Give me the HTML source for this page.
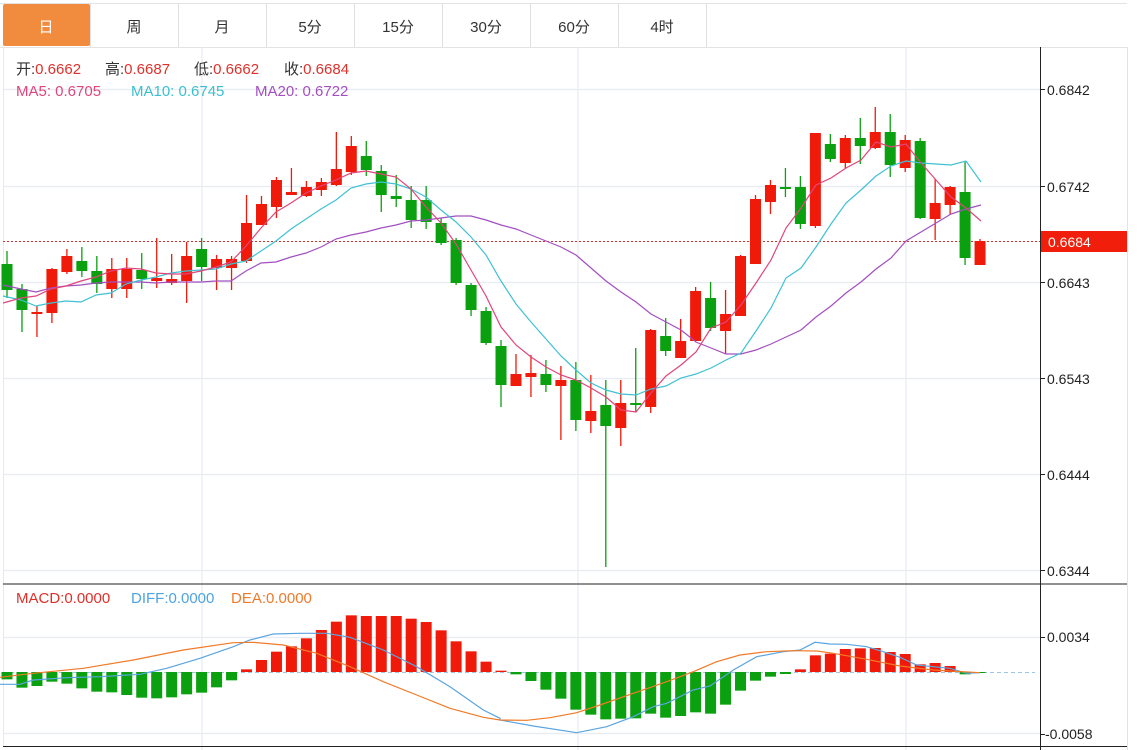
<!DOCTYPE html>
<html><head><meta charset="utf-8"><style>
html,body{margin:0;padding:0;background:#fff;width:1141px;height:750px;overflow:hidden}
svg{display:block}
text{font-family:"Liberation Sans","Noto Sans CJK SC",sans-serif}
</style></head><body>
<svg id="s" width="1141" height="750" xmlns="http://www.w3.org/2000/svg">
<rect width="1141" height="750" fill="#fff"/>
<line x1="0" y1="3.5" x2="1127" y2="3.5" stroke="#e3e3e3"/>
<rect x="3" y="4" width="87" height="42" fill="#f18c3e" rx="2"/>
<g stroke="#e0e0e0">
<line x1="90.5" y1="4" x2="90.5" y2="47"/><line x1="178.5" y1="4" x2="178.5" y2="47"/><line x1="266.5" y1="4" x2="266.5" y2="47"/><line x1="354.5" y1="4" x2="354.5" y2="47"/><line x1="442.5" y1="4" x2="442.5" y2="47"/><line x1="530.5" y1="4" x2="530.5" y2="47"/><line x1="618.5" y1="4" x2="618.5" y2="47"/><line x1="706.5" y1="4" x2="706.5" y2="47"/>
</g>
<g font-size="15" text-anchor="middle" fill="#333">
<text x="46" y="32" fill="#fff">日</text><text x="134" y="32">周</text><text x="222" y="32">月</text><text x="310" y="32">5分</text><text x="398" y="32">15分</text><text x="486" y="32">30分</text><text x="574" y="32">60分</text><text x="662" y="32">4时</text>
</g>
<line x1="0" y1="47.5" x2="1127" y2="47.5" stroke="#e3e3e3"/>
<line x1="1127.5" y1="47" x2="1127.5" y2="750" stroke="#e3e3e3"/>
<line x1="3.5" y1="47" x2="3.5" y2="746" stroke="#e6eaf0"/>
<g stroke="#e6ecf2" stroke-width="1.2">
<line x1="3" y1="89.5" x2="1040" y2="89.5"/><line x1="3" y1="186.5" x2="1040" y2="186.5"/><line x1="3" y1="282.5" x2="1040" y2="282.5"/><line x1="3" y1="378.5" x2="1040" y2="378.5"/><line x1="3" y1="474.5" x2="1040" y2="474.5"/><line x1="3" y1="570.5" x2="1040" y2="570.5"/>
<line x1="3" y1="637.5" x2="1040" y2="637.5"/><line x1="3" y1="733.5" x2="1040" y2="733.5"/>
<line x1="202" y1="47" x2="202" y2="750"/><line x1="578" y1="47" x2="578" y2="750"/><line x1="906" y1="47" x2="906" y2="750"/>
</g>
<line x1="3" y1="584" x2="1127" y2="584" stroke="#222"/>
<line x1="3" y1="746.5" x2="1127" y2="746.5" stroke="#222"/>
<line x1="1040.5" y1="47" x2="1040.5" y2="750" stroke="#222"/>
<g stroke="#222"><line x1="1040" y1="89.5" x2="1045" y2="89.5"/><line x1="1040" y1="186.5" x2="1045" y2="186.5"/><line x1="1040" y1="282.5" x2="1045" y2="282.5"/><line x1="1040" y1="378.5" x2="1045" y2="378.5"/><line x1="1040" y1="474.5" x2="1045" y2="474.5"/><line x1="1040" y1="570.5" x2="1045" y2="570.5"/><line x1="1040" y1="637.5" x2="1045" y2="637.5"/><line x1="1040" y1="734.5" x2="1045" y2="734.5"/><line x1="1040" y1="241.5" x2="1045" y2="241.5"/></g>
<g font-size="14" fill="#222">
<text x="1047" y="95">0.6842</text><text x="1047" y="192">0.6742</text><text x="1047" y="288">0.6643</text><text x="1047" y="384">0.6543</text><text x="1047" y="480">0.6444</text><text x="1047" y="576">0.6344</text><text x="1047" y="642">0.0034</text><text x="1045" y="739">-0.0058</text>
</g>
<rect x="1041" y="231" width="86" height="21" fill="#f01e0a"/>
<text x="1048" y="247" font-size="14" fill="#fff">0.6684</text>
<line x1="3" y1="241.5" x2="1040" y2="241.5" stroke="#d0312d" stroke-dasharray="2,2"/>
<line x1="3" y1="672.5" x2="1035" y2="672.5" stroke="#9cc6e6" stroke-dasharray="4,3"/>
<g id="c"></g>
<g id="m"></g>
<g font-size="15">
<text x="16" y="74" fill="#333">开:<tspan fill="#e0302a">0.6662</tspan></text>
<text x="105" y="74" fill="#333">高:<tspan fill="#e0302a">0.6687</tspan></text>
<text x="194" y="74" fill="#333">低:<tspan fill="#e0302a">0.6662</tspan></text>
<text x="284" y="74" fill="#333">收:<tspan fill="#e0302a">0.6684</tspan></text>
<text x="16" y="96" fill="#e0457b">MA5: 0.6705</text>
<text x="131" y="96" fill="#3bbfd0">MA10: 0.6745</text>
<text x="255" y="96" fill="#a24fc0">MA20: 0.6722</text>
<text x="16" y="603" fill="#e0302a">MACD:0.0000</text>
<text x="131" y="603" fill="#4ea3e3">DIFF:0.0000</text>
<text x="231" y="603" fill="#ee7a2c">DEA:0.0000</text>
</g>
</svg>
<script>
var R="#f01a0a",G="#0aa00f";
var C=[[251,264,290,298,0],[284,289,310,332,0],[306,312,314,337,1],[268,269,313,323,1],[249,256,272,274,1],[247,261,271,277,0],[256,271,284,293,0],[258,269,289,298,1],[258,269,289,298,1],[253,270,279,289,0],[238,278,281,288,1],[254,279,283,285,1],[242,256,281,303,1],[238,249,267,281,0],[255,259,268,290,1],[256,259,268,290,1],[195,223,261,263,1],[196,204,225,225,1],[177,180,207,218,1],[168,192,195,195,1],[181,187,196,197,1],[178,182,190,196,1],[132,169,185,186,1],[136,146,172,175,1],[141,156,170,176,0],[165,171,195,212,0],[175,196,199,207,0],[186,200,220,228,0],[186,200,222,229,0],[218,223,243,245,0],[238,240,283,285,0],[283,285,310,316,0],[307,311,343,345,0],[340,346,385,407,0],[354,374,386,386,1],[355,373,377,397,1],[360,374,385,392,0],[366,380,386,440,1],[362,380,420,431,0],[375,411,421,433,1],[380,405,426,567,0],[380,403,428,446,1],[348,403,405,412,0],[329,330,407,413,1],[318,336,351,356,0],[319,341,358,358,1],[287,291,341,341,1],[282,298,328,331,0],[290,314,331,354,1],[255,256,316,316,1],[195,199,264,264,1],[180,185,202,214,1],[168,187,189,197,0],[176,187,224,229,0],[133,133,226,228,1],[134,144,159,162,0],[135,138,163,168,1],[118,138,146,164,0],[107,132,148,149,1],[114,132,165,177,0],[135,140,168,172,1],[138,141,218,219,0],[179,203,219,240,1],[186,187,205,215,1],[162,192,258,265,0],[239,241,265,265,1]];
var M=[298,323,318,305,311,325,335,337,345,353,355,352,343,338,322,301,268,240,215,199,175,150,125,106,108,108,108,116,126,151,184,214,245,272,283,303,329,356,389,404,418,416,415,401,413,408,397,401,374,332,302,290,282,268,226,221,207,205,204,216,222,253,249,258,283,279];
var s="";
function X(i){return 7+i*14.97;}
for(var i=0;i<C.length;i++){var c=C[i],x=X(i),col=c[4]?R:G;
s+='<line x1="'+x+'" y1="'+c[0]+'" x2="'+x+'" y2="'+c[3]+'" stroke="'+col+'" stroke-width="1.3"/>';
var h=Math.max(c[2]-c[1],2);
s+='<rect x="'+(x-5.5)+'" y="'+c[1]+'" width="11" height="'+h+'" fill="'+col+'"/>';
var y=580+M[i]/3,z=672;
if(Math.abs(y-z)>0.8){s+='<rect x="'+(x-5.5)+'" y="'+Math.min(y,z)+'" width="11" height="'+Math.abs(y-z)+'" fill="'+(y<z?R:G)+'"/>';}
}
document.getElementById("c").innerHTML=s;
function P(a,col,w){return '<polyline fill="none" stroke="'+col+'" stroke-width="'+(w||1.2)+'" points="'+a+'"/>';}
var ma5="3,303 21,298 36,296 51,289 66,286 81,281 96,277 111,271 126,268 141,269 156,273 171,274 186,274 201,271 216,267 231,262 246,246 261,228 276,212 291,203 306,193 321,186 336,180 351,173 366,171 381,174 396,177 411,189 426,207 441,223 456,244 471,270 486,296 501,327 516,345 531,357 546,367 561,375 576,380 591,388 606,397 621,410 636,412 651,393 666,376 681,365 696,352 711,328 726,322 741,305 756,283 771,260 786,228 801,208 816,185 831,178 846,168 861,160 876,142 891,147 906,144 921,163 936,180 951,197 966,208 981,221";
var ma10="3,296 21,300 36,306 51,303 66,301 81,302 96,295 111,293 126,284 141,280 156,277 171,273 186,271 201,270 216,269 231,264 246,261 261,251 276,241 291,229 306,219 321,209 336,200 351,188 366,184 381,182 396,184 411,189 426,197 441,210 456,222 471,237 486,255 501,281 516,304 531,322 546,339 561,356 576,370 591,383 606,390 621,394 636,395 651,389 666,386 681,378 696,374 711,368 726,360 741,353 756,331 771,308 786,278 801,268 816,247 831,224 846,203 861,190 876,176 891,166 906,161 921,163 936,164 951,165 966,161 981,182";
var ma20="3,285 21,289 36,292 51,288 66,286 81,285 96,283 111,282 126,282 141,282 156,283 171,282 186,282 201,282 216,281 231,281 246,271 261,263 276,262 291,257 306,253 321,247 336,239 351,235 366,232 381,228 396,225 411,221 426,220 441,218 456,216 471,216 486,220 501,225 516,229 531,235 546,241 561,247 576,255 591,268 606,281 621,292 636,302 651,314 666,322 681,330 696,342 711,348 726,354 741,354 756,350 771,344 786,337 801,330 816,317 831,306 846,293 861,282 876,269 891,258 906,241 921,232 936,223 951,214 966,209 981,205";
function Z(a,ox){return a.map(function(p){return (ox+p[0]/3).toFixed(1)+","+(580+p[1]/3).toFixed(1);}).join(" ");}
var dif=Z([[0,313],[60,313],[100,300],[200,293],[300,290],[420,283],[500,265],[600,235],[700,200],[750,180],[820,162],[900,160],[980,160],[1050,172],[1150,210],[1250,260],[1350,320],[1450,390],[1500,415]],0)+" "+Z([[0,420],[100,438],[230,458],[320,440],[400,410],[460,380],[500,370],[580,330],[630,318],[700,270],[770,230],[850,215],[900,210],[945,187],[990,192],[1040,193],[1100,200],[1150,215],[1200,232],[1250,255],[1300,260],[1350,265],[1400,280],[1440,278]],500);
var dea=Z([[0,292],[100,280],[250,265],[400,240],[550,210],[700,188],[760,187],[850,195],[950,220],[1050,260],[1150,305],[1250,345],[1350,385],[1450,412]],0)+" "+Z([[0,420],[80,421],[150,413],[230,398],[300,375],[400,340],[500,305],[580,275],[650,245],[720,225],[800,215],[880,212],[950,213],[1000,220],[1100,238],[1200,258],[1300,270],[1440,278]],500);
document.getElementById("m").innerHTML=P(ma20,"#a24fc0")+P(ma10,"#3fc1d3")+P(ma5,"#e0457b")+P(dif,"#5aa5e0")+P(dea,"#f07a28");
</script>
</body></html>
